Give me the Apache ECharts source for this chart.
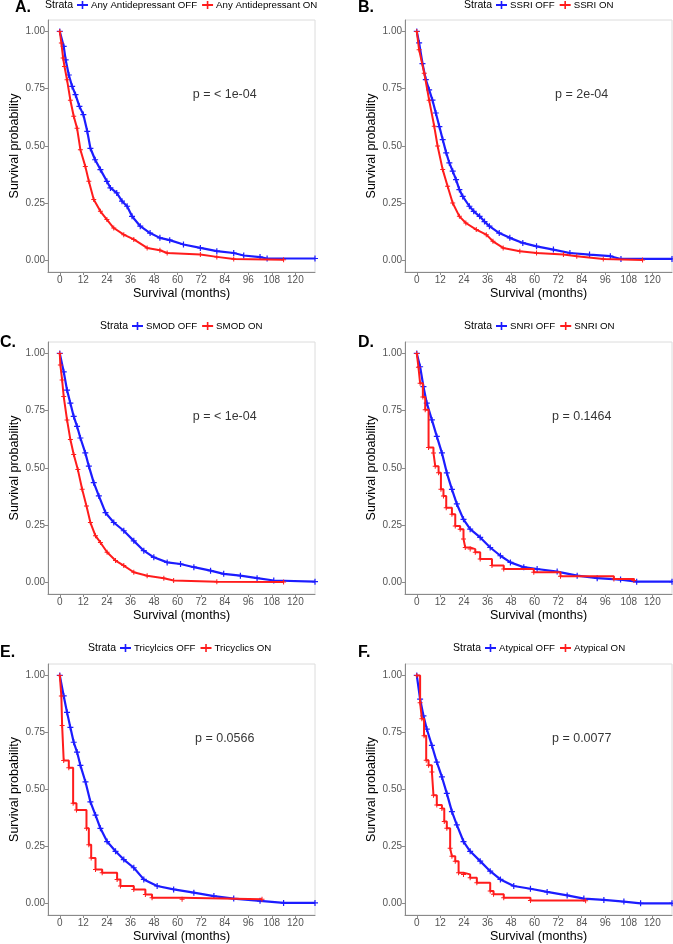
<!DOCTYPE html>
<html><head><meta charset="utf-8">
<script src="https://cdn.jsdelivr.net/npm/echarts@6/dist/echarts.min.js"></script>
<style>html,body{margin:0;padding:0;background:#fff}#c{width:673px;height:944px}</style>
</head><body><div id="c"></div>
<script>
// ---------- data ----------
const xTicks = [0, 12, 24, 36, 48, 60, 72, 84, 96, 108, 120];
const yTicks = [0, 0.25, 0.5, 0.75, 1];
const panelLetters = ['A.', 'B.', 'C.', 'D.', 'E.', 'F.'];
const offNames = ['Any Antidepressant OFF', 'SSRI OFF', 'SMOD OFF', 'SNRI OFF', 'Tricylcics OFF', 'Atypical OFF'];
const onNames  = ['Any Antidepressant ON', 'SSRI ON', 'SMOD ON', 'SNRI ON', 'Tricyclics ON', 'Atypical ON'];
const pTexts = ['p = < 1e-04', 'p = 2e-04', 'p = < 1e-04', 'p = 0.1464', 'p = 0.0566', 'p = 0.0077'];

const aOffT = [0,2,3,4.6,6.3,8,10,12,14,15.6,18,20.7,24,25.8,29,31.7,34.3,36.8,41,46,51,56,63,71.6,80,88.6,93.7,102,105.6,130];
const aOffS = [1,0.935,0.876,0.81,0.76,0.724,0.673,0.637,0.564,0.49,0.44,0.397,0.346,0.317,0.295,0.259,0.237,0.193,0.15,0.12,0.099,0.089,0.07,0.055,0.041,0.033,0.022,0.015,0.009,0.009];
const aOnT = [0,0.8,1.7,2.4,3.7,5.4,7.1,8.8,10.5,13,14.8,17.3,20.7,24,27.5,32.6,37.7,44.5,51,54.7,71.6,80,88.6,114];
const aOnS = [1,0.95,0.884,0.847,0.789,0.70,0.63,0.578,0.484,0.411,0.346,0.266,0.215,0.179,0.142,0.113,0.092,0.055,0.045,0.033,0.026,0.016,0.007,0.003];

const bOffT = [0,1.2,2.9,4.6,6.3,8,9.7,11.5,13.2,15,16.6,18.3,20,21.7,23.4,26.8,29,32,34.5,37,42,47.4,54,61,69.6,78,88,98.6,104,130];
const bOffS = [1,0.95,0.86,0.79,0.745,0.70,0.644,0.585,0.528,0.47,0.426,0.39,0.353,0.31,0.28,0.237,0.215,0.193,0.17,0.15,0.12,0.099,0.077,0.062,0.048,0.033,0.026,0.019,0.007,0.007];
const bOnT = [0,1.2,3.8,6.3,8.9,10.6,13.2,15.7,18.3,21.7,25,30.3,35.4,38.8,44,52.5,61,74.7,81.5,95,115];
const bOnS = [1,0.92,0.818,0.70,0.586,0.5,0.397,0.324,0.251,0.193,0.164,0.135,0.113,0.084,0.055,0.041,0.033,0.026,0.019,0.007,0.002];

const cOffT = [0,2,3.7,5.4,7.1,8.8,10.5,13,14.8,17.3,19.9,23.3,27.5,32.6,37.7,42.8,47.9,54.7,61.5,68.3,76.8,83.5,92,100.5,109,130];
const cOffS = [1,0.92,0.84,0.783,0.725,0.682,0.631,0.566,0.508,0.436,0.378,0.305,0.262,0.226,0.182,0.139,0.11,0.088,0.081,0.067,0.052,0.038,0.03,0.019,0.009,0.004];
const cOnT = [0,0.3,1.2,2,3.7,5.4,7.1,9.2,11.4,13.6,15.6,18.2,20.7,24.1,28.4,32.6,37.7,44.5,53,58,80,114];
const cOnS = [1,0.95,0.884,0.812,0.71,0.624,0.559,0.493,0.407,0.334,0.262,0.204,0.175,0.132,0.096,0.074,0.045,0.03,0.019,0.009,0.004,0.002];

const dOffT = [0,1.7,3.4,5.1,7.7,10.2,12.8,15.3,17.9,20.4,23.8,27.2,32.3,37.4,42.6,47.7,54.5,61.3,71.5,81.7,91.9,103.8,112,130];
const dOffS = [1,0.942,0.855,0.783,0.71,0.638,0.566,0.479,0.407,0.343,0.276,0.233,0.197,0.153,0.117,0.088,0.067,0.059,0.048,0.03,0.019,0.013,0.004,0.004];
const dOnT = [0,0.85,1.7,3.1,4.3,6,8.5,9.4,11.1,12.3,13.6,15,17.9,19.6,22.1,23.8,24.7,27.2,29.8,32.3,38.3,44.3,59.6,73.2,100.4,110.6];
const dOnS = [1,0.94,0.87,0.81,0.754,0.59,0.566,0.508,0.479,0.407,0.378,0.327,0.298,0.247,0.233,0.19,0.153,0.146,0.132,0.103,0.074,0.059,0.045,0.027,0.016,0.009];

const eOffT = [0,2,3.7,5.4,7.1,8.8,10.5,13.1,15.6,18.2,20.7,24.1,28.4,32.6,37.7,42.8,49.6,58,68.3,78.5,88.6,102,114,130];
const eOffS = [1,0.91,0.838,0.772,0.707,0.664,0.606,0.533,0.446,0.388,0.33,0.272,0.229,0.193,0.157,0.106,0.077,0.062,0.048,0.033,0.022,0.012,0.003,0.003];
const eOnT = [0,0.8,1.2,2,4.6,6.8,8.5,13.6,14.8,16,18.2,21.6,29.2,30.9,37.7,43.6,47,62.3,103];
const eOnS = [1,0.91,0.78,0.627,0.595,0.44,0.41,0.33,0.258,0.2,0.149,0.135,0.106,0.077,0.062,0.04,0.026,0.019,0.019];

const fOffT = [0,1.7,3.4,5.1,7.7,10.2,12.8,15.3,17.9,20.4,23.8,27.2,32.3,37.4,42.6,49.4,57.9,66.4,76.6,85.1,95.3,105.5,114,130];
const fOffS = [1,0.896,0.823,0.765,0.693,0.62,0.555,0.483,0.403,0.345,0.272,0.229,0.186,0.142,0.106,0.077,0.065,0.051,0.036,0.022,0.016,0.009,0.001,0.001];
const fOnT = [0,1.7,2.6,3.7,4.8,6,7.7,8.5,10.2,12.8,14,15.3,17,17.9,19.6,21.3,23.8,27.2,30.6,37.4,39.1,44.3,57.9,86];
const fOnS = [1,0.88,0.81,0.736,0.628,0.606,0.577,0.475,0.432,0.417,0.36,0.33,0.243,0.207,0.186,0.135,0.128,0.113,0.091,0.055,0.041,0.026,0.014,0.012];

const pvalX = 84, pvalY = 0.725;

// ---------- layout / style ----------
const offT = [aOffT, bOffT, cOffT, dOffT, eOffT, fOffT];
const offS = [aOffS, bOffS, cOffS, dOffS, eOffS, fOffS];
const onT = [aOnT, bOnT, cOnT, dOnT, eOnT, fOnT];
const onS = [aOnS, bOnS, cOnS, dOnS, eOnS, fOnS];
// small-sample ON curves are drawn as visible staircases
const onStep = [false, false, false, 'end', 'end', 'end'];

const FONT = '"Liberation Sans", Arial, Helvetica, sans-serif';
const BLUE = '#1c1cff', RED = '#ff1c1c';
const PLUS = 'path://M4,0H6V4H10V6H6V10H4V6H0V4H4Z';

const gridPos = [
  {left: 48, top: 20, width: 267, height: 252},
  {left: 405, top: 20, width: 267, height: 252},
  {left: 48, top: 342, width: 267, height: 252},
  {left: 405, top: 342, width: 267, height: 252},
  {left: 48, top: 664, width: 267, height: 253},
  {left: 405, top: 664, width: 267, height: 253}
];
const strataPos = [[45, 6], [464, 6], [100, 327], [464, 327], [88, 649], [453, 649]];
const letterPos = [[15, 8], [358, 8], [0, 343], [358, 343], [0, 653], [358, 653]];

const zip = (t, s) => t.map((v, i) => [v, s[i]]);

const grid = [], xAxis = [], yAxis = [], series = [], legend = [], graphic = [];
for (let i = 0; i < 6; i++) {
  const g = gridPos[i];
  grid.push(Object.assign({show: true, borderColor: '#dcdcdc', borderWidth: 1, backgroundColor: '#fff'}, g));
  xAxis.push({
    type: 'value', gridIndex: i, min: -6, max: 130,
    name: 'Survival (months)', nameLocation: 'middle', nameGap: 15,
    nameTextStyle: {fontFamily: FONT, fontSize: 12.5, color: '#000'},
    axisLine: {show: true, onZero: false, lineStyle: {color: '#8a8a8a', width: 1}},
    axisTick: {show: true, length: 3, lineStyle: {color: '#8a8a8a'}, customValues: xTicks},
    axisLabel: {fontFamily: FONT, fontSize: 10, color: '#555', margin: 3, customValues: xTicks},
    splitLine: {show: false}
  });
  yAxis.push({
    type: 'value', gridIndex: i, min: -0.05, max: 1.05,
    name: 'Survival probability', nameLocation: 'middle', nameGap: 27,
    nameTextStyle: {fontFamily: FONT, fontSize: 12.5, color: '#000'},
    axisLine: {show: true, onZero: false, lineStyle: {color: '#8a8a8a', width: 1}},
    axisTick: {show: true, length: 3, lineStyle: {color: '#8a8a8a'}, customValues: yTicks},
    axisLabel: {fontFamily: FONT, fontSize: 10, color: '#555', margin: 3, customValues: yTicks,
      formatter: v => v.toFixed(2)},
    splitLine: {show: false}
  });
  const common = {
    type: 'line', xAxisIndex: i, yAxisIndex: i,
    showSymbol: true, showAllSymbol: true, symbol: PLUS,
    animation: false, clip: true
  };
  series.push(Object.assign({}, common, {
    name: offNames[i], data: zip(offT[i], offS[i]), step: false, symbolSize: 6,
    lineStyle: {color: BLUE, width: 2.2}, itemStyle: {color: BLUE}, z: 3
  }));
  series.push(Object.assign({}, common, {
    name: onNames[i], data: zip(onT[i], onS[i]), step: onStep[i], symbolSize: 5,
    lineStyle: {color: RED, width: 2}, itemStyle: {color: RED}, z: 4
  }));
  series.push({
    type: 'scatter', xAxisIndex: i, yAxisIndex: i, silent: true, animation: false,
    data: [[pvalX, pvalY]], symbolSize: 1, itemStyle: {color: 'rgba(0,0,0,0)'},
    label: {show: true, position: 'inside', formatter: pTexts[i], fontFamily: FONT, fontSize: 12.5, color: '#000'}
  });
  const sp = strataPos[i];
  legend.push({
    data: [offNames[i], onNames[i]], left: sp[0] + 31, top: sp[1] - 6, padding: 0,
    itemWidth: 11, itemHeight: 10, itemGap: 4, selectedMode: false,
    textStyle: {fontFamily: FONT, fontSize: 9.7, color: '#000', padding: [0, 0, 0, -2]}
  });
  graphic.push({type: 'text', left: sp[0], top: sp[1] - 6,
    style: {text: 'Strata', fontFamily: FONT, fontSize: 10.5, fill: '#000'}});
  const lp = letterPos[i];
  graphic.push({type: 'text', left: lp[0], top: lp[1] - 8,
    style: {text: panelLetters[i], fontFamily: FONT, fontSize: 16, fontWeight: 'bold', fill: '#000'}});
}

const chart = echarts.init(document.getElementById('c'), null, {renderer: 'canvas'});
chart.setOption({animation: false, backgroundColor: '#fff', grid, xAxis, yAxis, series, legend, graphic});
</script></body></html>
